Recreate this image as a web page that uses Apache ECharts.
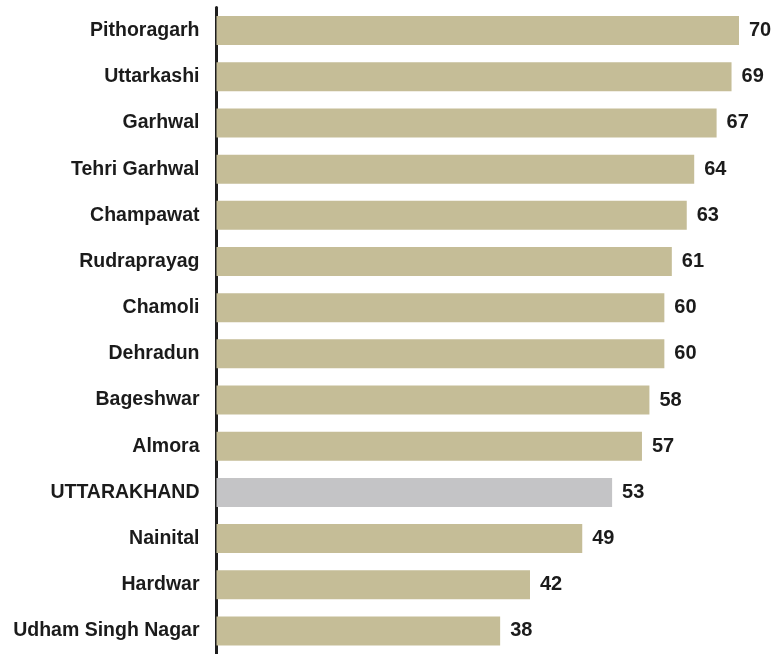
<!DOCTYPE html>
<html>
<head>
<meta charset="utf-8">
<script src="https://cdn.jsdelivr.net/npm/echarts@6/dist/echarts.min.js"></script>
<style>
  html, body { margin: 0; padding: 0; background: #ffffff; }
  #chart { width: 776px; height: 654px; }
</style>
</head>
<body>
<div id="chart"></div>
<script>
// Districts of Uttarakhand, top to bottom
const districts = [
  'Pithoragarh', 'Uttarkashi', 'Garhwal', 'Tehri Garhwal', 'Champawat',
  'Rudraprayag', 'Chamoli', 'Dehradun', 'Bageshwar', 'Almora',
  'UTTARAKHAND', 'Nainital', 'Hardwar', 'Udham Singh Nagar'
];
const values = [70, 69, 67, 64, 63, 61, 60, 60, 58, 57, 53, 49, 42, 38];
const stateLabel = 'UTTARAKHAND';

const districtColor = '#c5bd97';
const stateColor = '#c4c4c6';
const textColor = '#1b1b1b';
const fontFamily = '"Liberation Sans", Arial, sans-serif';

const chart = echarts.init(document.getElementById('chart'), null, { renderer: 'canvas' });

chart.setOption({
  animation: false,
  backgroundColor: '#ffffff',
  grid: { left: 216.5, right: 37, top: 7.5, height: 654.5, containLabel: false },
  xAxis: {
    type: 'value',
    min: 0,
    max: 70,
    show: false
  },
  yAxis: {
    type: 'category',
    data: districts,
    inverse: true,
    axisLine: { show: true, lineStyle: { color: '#1e1e1e', width: 3 } },
    axisTick: { show: false },
    axisLabel: {
      margin: 17,
      color: textColor,
      fontFamily: fontFamily,
      fontWeight: 'bold',
      fontSize: 19.5
    }
  },
  series: [{
    type: 'bar',
    barWidth: 29,
    data: values.map((v, i) => ({
      value: v,
      itemStyle: { color: districts[i] === stateLabel ? stateColor : districtColor }
    })),
    label: {
      show: true,
      position: 'right',
      distance: 10,
      color: textColor,
      fontFamily: fontFamily,
      fontWeight: 'bold',
      fontSize: 20
    }
  }]
});
</script>
</body>
</html>
